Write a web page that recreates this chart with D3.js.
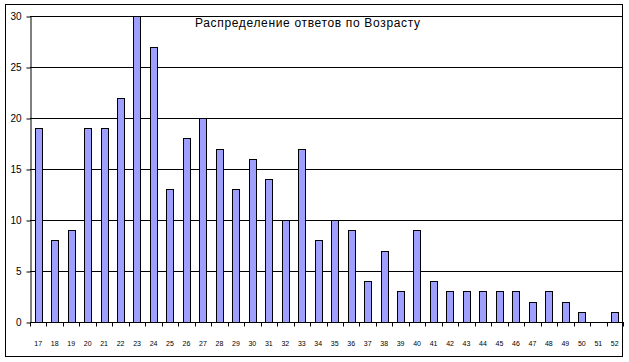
<!DOCTYPE html>
<html>
<head>
<meta charset="utf-8">
<script src="https://cdn.jsdelivr.net/npm/d3@7"></script>
<style>
  body { margin: 0; background: #fff; }
  svg text { font-family: Arial, "Liberation Sans", sans-serif; }
</style>
</head>
<body>
<div id="chart"></div>
<script>
// Ages and answer counts
var ages = ['17','18','19','20','21','22','23','24','25','26','27','28','29','30','31','32','33','34','35',
            '36','37','38','39','40','41','42','43','44','45','46','47','48','49','50','51','52'];
var counts = [19, 8, 9, 19, 19, 22, 30, 27, 13, 18, 20, 17, 13, 16, 14, 10, 17, 8, 10,
              9, 4, 7, 3, 9, 4, 3, 3, 3, 3, 3, 2, 3, 2, 1, 0, 1];
var yTicks = [0, 5, 10, 15, 20, 25, 30];
var title = 'Распределение ответов по Возрасту';

var width = 629, height = 362;
var margin = { top: 16, right: 6, bottom: 40, left: 30 };
var plotWidth = width - margin.left - margin.right;
var plotHeight = height - margin.top - margin.bottom;

var svg = d3.select('#chart').append('svg')
    .attr('width', width)
    .attr('height', height);

// Outer chart frame
svg.append('rect')
    .attr('x', 5.5).attr('y', 4.5)
    .attr('width', 617).attr('height', 352)
    .attr('fill', 'none')
    .attr('stroke', '#000');

var g = svg.append('g')
    .attr('transform', 'translate(' + margin.left + ',' + margin.top + ')');

var xScale = d3.scaleBand()
    .domain(ages)
    .range([0, plotWidth])
    .paddingInner(0.56)
    .paddingOuter(0.28);

var yScale = d3.scaleLinear()
    .domain([0, 30])
    .range([plotHeight, 0]);

// Grid lines
g.selectAll('.grid-line')
    .data(yTicks.slice(1))
    .enter()
    .append('line')
    .attr('class', 'grid-line')
    .attr('x1', 0)
    .attr('x2', plotWidth)
    .attr('y1', function(d) { return Math.round(yScale(d)) + 0.5; })
    .attr('y2', function(d) { return Math.round(yScale(d)) + 0.5; })
    .attr('stroke', '#000');

// Bars
g.selectAll('.bar')
    .data(counts)
    .enter()
    .append('rect')
    .attr('class', 'bar')
    .attr('x', function(d, i) { return Math.round(xScale(ages[i])) + 0.5; })
    .attr('y', function(d) { return Math.round(yScale(d)) + 0.5; })
    .attr('width', Math.round(xScale.bandwidth()))
    .attr('height', function(d) { return Math.round(plotHeight - yScale(d)); })
    .attr('fill', '#9f9fff')
    .attr('stroke', '#000')
    .attr('stroke-width', 1)
    .style('display', function(d) { return d > 0 ? null : 'none'; });

// Y axis
var yAxis = g.append('g')
    .attr('class', 'y-axis')
    .attr('transform', 'translate(0.5,0.5)')
    .call(d3.axisLeft(yScale).tickValues(yTicks).tickSize(4).tickSizeOuter(0));
yAxis.selectAll('line, path').attr('stroke', '#000');
yAxis.selectAll('text')
    .attr('font-size', '10px')
    .attr('fill', '#000')
    .attr('x', -9);

// X axis: line with ticks between categories
var step = xScale.step();
var xBase = g.append('g')
    .attr('class', 'x-axis')
    .attr('transform', 'translate(0,' + (Math.round(plotHeight) + 0.5) + ')');
xBase.append('line')
    .attr('x1', 0).attr('x2', plotWidth + 1)
    .attr('stroke', '#000');
var boundaries = d3.range(ages.length + 1).map(function(i) {
    return i === ages.length ? plotWidth : xScale(ages[i]) - step * xScale.paddingInner() / 2;
});
boundaries[0] = 0;
xBase.selectAll('.tick')
    .data(boundaries)
    .enter()
    .append('line')
    .attr('x1', function(d) { return Math.round(d) + 0.5; })
    .attr('x2', function(d) { return Math.round(d) + 0.5; })
    .attr('y1', 0)
    .attr('y2', 4)
    .attr('stroke', '#000');
xBase.selectAll('.label')
    .data(ages)
    .enter()
    .append('text')
    .attr('x', function(d) { return xScale(d) + xScale.bandwidth() / 2; })
    .attr('y', 23)
    .attr('text-anchor', 'middle')
    .attr('font-size', '7px')
    .attr('fill', '#000')
    .text(function(d) { return d; });

// Title
svg.append('text')
    .attr('x', 195)
    .attr('y', 27)
    .attr('font-size', '12px')
    .attr('fill', '#000')
    .attr('textLength', 225)
    .attr('lengthAdjust', 'spacing')
    .text(title);
</script>
</body>
</html>
